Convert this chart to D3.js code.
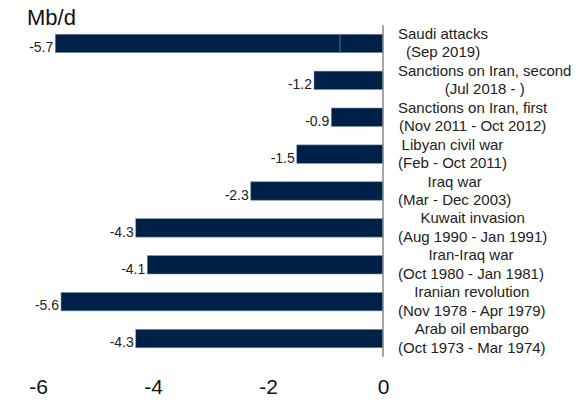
<!DOCTYPE html>
<html lang="en">
<head>
  <meta charset="UTF-8" />
  <title>Oil supply disruptions</title>
  <script src="https://d3js.org/d3.v7.min.js"></script>
  <style>
    body { margin: 0; background: #fff; }
    svg text { font-family: "Liberation Sans", Arial, Helvetica, sans-serif; }
  </style>
</head>
<body>
  <svg id="chart" width="580" height="400"></svg>
  <script>
    // data, top to bottom
    const events = ["Saudi attacks", "Sanctions on Iran, second", "Sanctions on Iran, first",
      "Libyan civil war", "Iraq war", "Kuwait invasion", "Iran-Iraq war",
      "Iranian revolution", "Arab oil embargo"];
    const periods = ["(Sep 2019)", "(Jul 2018 - )", "(Nov 2011 - Oct 2012)", "(Feb - Oct 2011)",
      "(Mar - Dec 2003)", "(Aug 1990 - Jan 1991)", "(Oct 1980 - Jan 1981)",
      "(Nov 1978 - Apr 1979)", "(Oct 1973 - Mar 1974)"];
    const loss = [-5.7, -1.2, -0.9, -1.5, -2.3, -4.3, -4.1, -5.6, -4.3];
    const xTicks = [-6, -4, -2, 0];
    // the Saudi bar has a faint split in it
    const saudiSplit = -0.75;

    const data = events.map((e, i) => ({ event: e, period: periods[i], value: loss[i] }));

    const svg = d3.select("#chart");

    const x = d3.scaleLinear().domain([-6, 0]).range([38, 383]);
    const y = d3.scaleBand()
      .domain(events)
      .range([25, 357])
      .paddingInner(0.5)
      .paddingOuter(0.25);

    // unit label
    svg.append("text")
      .attr("x", 27)
      .attr("y", 25)
      .style("font-size", "22px")
      .attr("fill", "#111")
      .text("Mb/d");

    // bars
    svg.selectAll("rect.bar")
      .data(data)
      .join("rect")
      .attr("class", "bar")
      .attr("x", d => x(d.value))
      .attr("y", d => y(d.event))
      .attr("width", d => x(0) - x(d.value))
      .attr("height", y.bandwidth())
      .attr("fill", "#002147")
      .attr("stroke", "#7f93ad")
      .attr("stroke-width", 0.6);

    svg.append("line")
      .attr("x1", x(saudiSplit))
      .attr("x2", x(saudiSplit))
      .attr("y1", y("Saudi attacks"))
      .attr("y2", y("Saudi attacks") + y.bandwidth())
      .attr("stroke", "#6f84a0")
      .attr("stroke-width", 0.8);

    // value labels
    svg.selectAll("text.val")
      .data(data)
      .join("text")
      .attr("class", "val")
      .attr("x", d => x(d.value) - 2)
      .attr("y", d => y(d.event) + y.bandwidth() - 0.5)
      .attr("text-anchor", "end")
      .style("font-size", "14px")
      .attr("fill", "#222")
      .text(d => d.value.toFixed(1));

    // zero axis line
    svg.append("line")
      .attr("x1", x(0))
      .attr("x2", x(0))
      .attr("y1", 25)
      .attr("y2", 357)
      .attr("stroke", "#888")
      .attr("stroke-width", 1.5);

    // category labels: two lines, centred within a block left-aligned at 398
    const lab = svg.selectAll("g.lab")
      .data(data)
      .join("g")
      .attr("class", "lab")
      .attr("transform", d => `translate(398,${y(d.event) + y.bandwidth() / 2})`);

    lab.each(function(d) {
      const g = d3.select(this);
      const t1 = g.append("text").attr("y", -4.5).text(d.event);
      const t2 = g.append("text").attr("y", 14).text(d.period);
      g.selectAll("text")
        .style("font-size", "15px")
        .attr("fill", "#222")
        .attr("text-anchor", "middle");
      const w = Math.max(t1.node().getComputedTextLength(), t2.node().getComputedTextLength());
      g.selectAll("text").attr("x", w / 2);
    });

    // x axis
    const xAxis = svg.append("g")
      .attr("transform", "translate(0,375)")
      .call(d3.axisBottom(x).tickValues(xTicks).tickSize(0).tickFormat(d => String(d)));
    xAxis.select(".domain").remove();
    xAxis.selectAll("text")
      .style("font-size", "21px")
      .style("font-family", "'Liberation Sans', Arial, sans-serif")
      .attr("fill", "#111")
      .attr("dy", null)
      .attr("y", 19);
  </script>
</body>
</html>
